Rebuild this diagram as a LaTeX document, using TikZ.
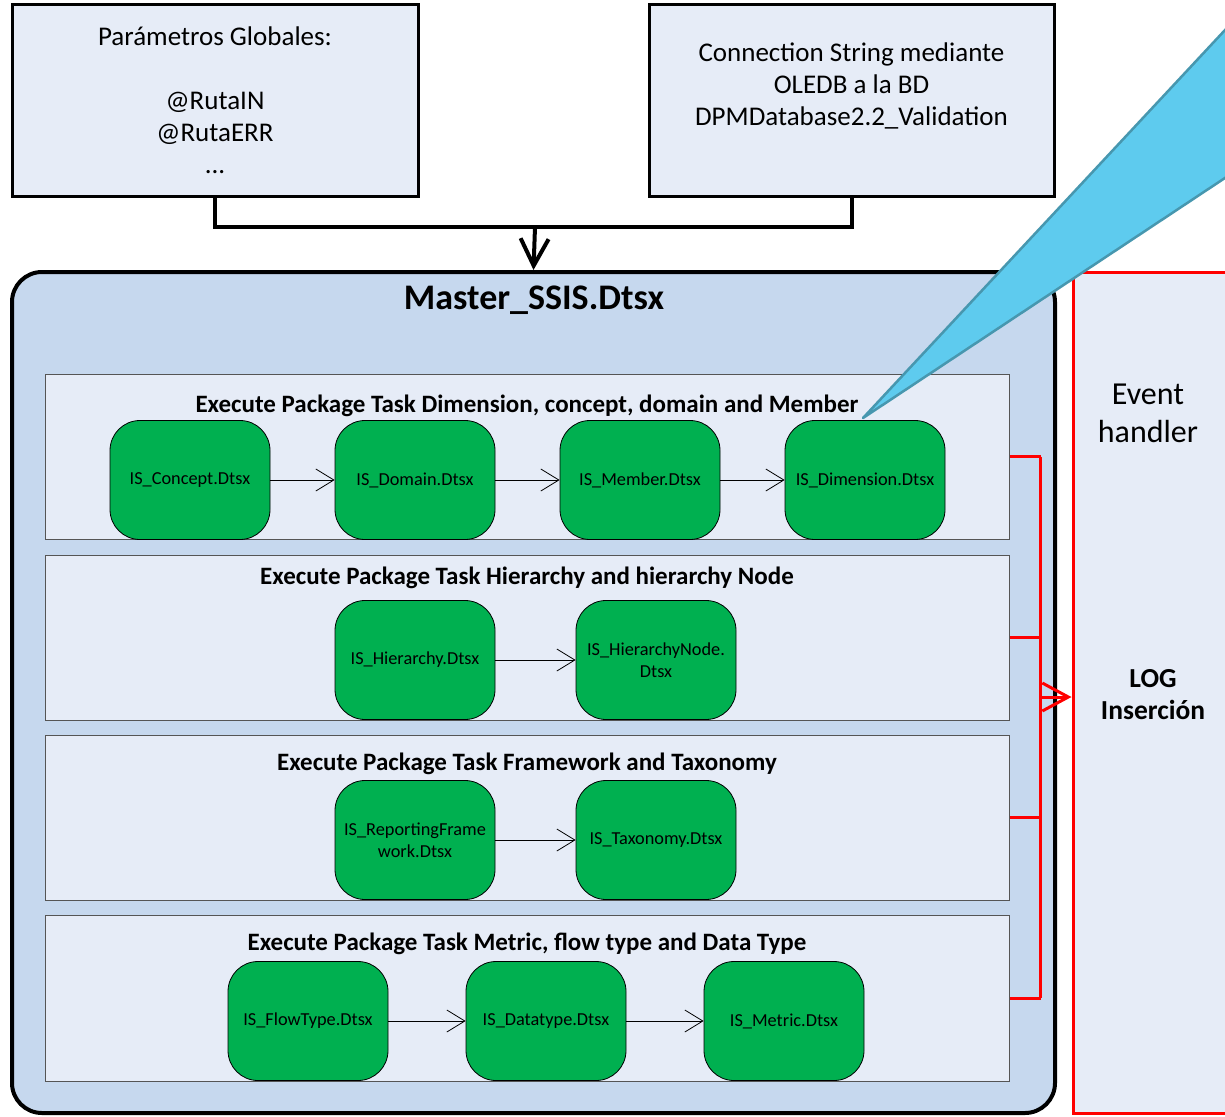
\documentclass[tikz,border=0pt]{standalone}
\usepackage{fontspec}
\setmainfont{Carlito}
\usetikzlibrary{arrows.meta}
\definecolor{paleblue}{HTML}{E6ECF7}
\definecolor{midblue}{HTML}{C6D8EE}
\definecolor{taskgreen}{HTML}{00B050}
\definecolor{callfill}{HTML}{5ECBEE}
\definecolor{callline}{HTML}{4797AF}
\definecolor{panelline}{HTML}{555555}
\tikzset{
  topbox/.style={draw=black, line width=3pt, fill=paleblue, align=center, inner sep=0pt,
    font=\fontsize{27}{32}\selectfont},
  master/.style={draw=black, line width=4pt, fill=midblue, rounded corners=30pt, inner sep=0pt},
  panel/.style={draw=panelline, line width=1pt, fill=paleblue, inner sep=0pt,
    minimum width=964pt},
  ptitle/.style={font=\fontsize{25}{30}\selectfont\bfseries, inner sep=0pt},
  task/.style={draw=black, line width=0.8pt, fill=taskgreen, rounded corners=30pt,
    minimum width=160pt, minimum height=119pt, inner sep=0pt, align=center,
    font=\fontsize{18.3}{22}\selectfont},
  flow/.style={line width=0.8pt, -{Straight Barb[length=18pt,width=22pt,line width=0.8pt]}},
  feed/.style={line width=4pt},
  redline/.style={draw=red, line width=3pt},
}
\begin{document}
\begin{tikzpicture}[x=1pt,y=-1pt]
\useasboundingbox (0,0) rectangle (1225,1116);

% top boxes
\node[topbox, minimum width=406pt, minimum height=191pt] (params) at (215,100.5)
  {Parámetros Globales:\\[32pt]@RutaIN\\@RutaERR\\...};
\node[topbox, minimum width=405pt, minimum height=191pt] (conn) at (851.5,100.5)
  {Connection String mediante\\OLEDB a la BD\\DPMDatabase2.2\_Validation\\[-8pt]\strut};

% master container
\node[master, minimum width=1043pt, minimum height=841pt] (mst) at (533.5,692.5) {};
\node[font=\fontsize{36}{42}\selectfont\bfseries, inner sep=0pt] (mtitle) at (534,300) {Master\_SSIS.Dtsx};

% feed connector
\coordinate (join) at (535,227);
\draw[feed] (params.south) |- (join) -| (conn.south);
\draw[feed, -{Straight Barb[length=27pt,width=28pt,line width=4pt]}] (join) -- (mst.north);

% event handler box
\node[redline, fill=paleblue, minimum width=167pt, minimum height=841pt, inner sep=0pt] (evt) at (1156.5,692.5) {};
\node[font=\fontsize{32}{38}\selectfont, align=center, inner sep=0pt] (evtxt) at (1148,413) {Event\\handler};
\node[font=\fontsize{27.5}{32}\selectfont\bfseries, align=center, inner sep=0pt] (logtxt) at (1153,695) {LOG\\Inserción};

% panels
\node[panel, minimum height=165pt] (p1) at (527,456.5) {};
\node[panel, minimum height=165pt] (p2) at (527,637.5) {};
\node[panel, minimum height=165pt] (p3) at (527,817.5) {};
\node[panel, minimum height=166pt] (p4) at (527,998) {};

\node[ptitle] (t1) at (527,406) {Execute Package Task Dimension, concept, domain and Member};
\node[ptitle] (t2) at (527,578) {Execute Package Task Hierarchy and hierarchy Node};
\node[ptitle] (t3) at (527,764) {Execute Package Task Framework and Taxonomy};
\node[ptitle] (t4) at (527,944) {Execute Package Task Metric, flow type and Data Type};

% tasks
\node[task] (concept) at (190,480) {IS\_Concept.Dtsx};
\node[task] (domain) at (415,480) {IS\_Domain.Dtsx};
\node[task] (member) at (640,480) {IS\_Member.Dtsx};
\node[task] (dimension) at (865,480) {IS\_Dimension.Dtsx};
\draw[flow] (concept) -- (domain);
\draw[flow] (domain) -- (member);
\draw[flow] (member) -- (dimension);

\node[task] (hier) at (415,660) {IS\_Hierarchy.Dtsx};
\node[task] (hnode) at (656,660) {IS\_HierarchyNode.\\Dtsx};
\draw[flow] (hier) -- (hnode);

\node[task] (repfw) at (415,840) {IS\_ReportingFrame\\work.Dtsx};
\node[task] (taxo) at (656,840) {IS\_Taxonomy.Dtsx};
\draw[flow] (repfw) -- (taxo);

\node[task] (flowt) at (308,1021) {IS\_FlowType.Dtsx};
\node[task] (datat) at (546,1021) {IS\_Datatype.Dtsx};
\node[task] (metric) at (784,1021) {IS\_Metric.Dtsx};
\draw[flow] (flowt) -- (datat);
\draw[flow] (datat) -- (metric);

% red bracket to log
\draw[redline] (p1.east) -- ++(31,0) coordinate (b1);
\draw[redline] (p2.east) -- ++(31,0) coordinate (b2);
\draw[redline] (p3.east) -- ++(31,0) coordinate (b3);
\draw[redline] (p4.east) -- ++(31,0) coordinate (b4);
\draw[redline] (b1) -- (b4);
\coordinate (bmid) at (1040,697);
\draw[redline, -{Straight Barb[length=26pt,width=28pt,line width=3pt]}] (bmid) -- (evt.west |- bmid);

% callout wedge
\coordinate (tip) at (863,418);
\filldraw[fill=callfill, draw=callline, line width=2.5pt, line join=round]
  (tip) -- (1245,8.6) -- (1245,164.7) -- cycle;
\end{tikzpicture}
\end{document}
